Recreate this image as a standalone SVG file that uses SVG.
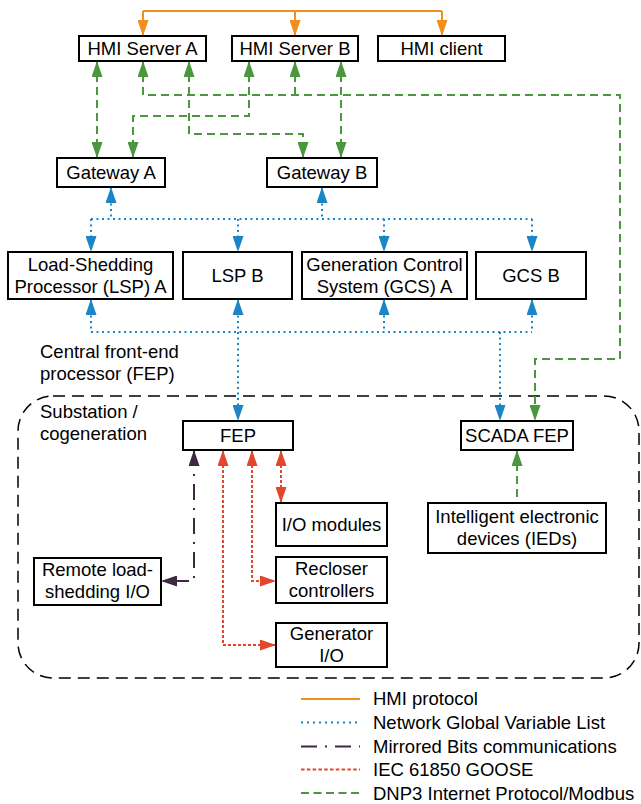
<svg xmlns="http://www.w3.org/2000/svg" width="641" height="804" viewBox="0 0 641 804">
<style>
.box{fill:#fff;stroke:#000;stroke-width:2}
.t{font-family:"Liberation Sans",Arial,sans-serif;font-size:18.5px;fill:#000}
.c{text-anchor:middle}
.ln{fill:none;stroke-width:2}
.or{stroke:#F28E1C}
.bl{stroke:#1B85C6;stroke-dasharray:2 3.5}
.gr{stroke:#4A973D;stroke-dasharray:8 5}
.pu{stroke:#3D2942;stroke-dasharray:16 8 2 8}
.rd{stroke:#E2472B;stroke-dasharray:3 2}
</style>
<defs>
<marker id="aO" viewBox="0 0 16 11" refX="16" refY="5.5" markerWidth="16" markerHeight="11" markerUnits="userSpaceOnUse" orient="auto-start-reverse"><path d="M0,0L16,5.5L0,11z" fill="#F28E1C"/></marker>
<marker id="aB" viewBox="0 0 16 11" refX="16" refY="5.5" markerWidth="16" markerHeight="11" markerUnits="userSpaceOnUse" orient="auto-start-reverse"><path d="M0,0L16,5.5L0,11z" fill="#1B85C6"/></marker>
<marker id="aG" viewBox="0 0 16 11" refX="16" refY="5.5" markerWidth="16" markerHeight="11" markerUnits="userSpaceOnUse" orient="auto-start-reverse"><path d="M0,0L16,5.5L0,11z" fill="#4A973D"/></marker>
<marker id="aP" viewBox="0 0 16 11" refX="16" refY="5.5" markerWidth="16" markerHeight="11" markerUnits="userSpaceOnUse" orient="auto-start-reverse"><path d="M0,0L16,5.5L0,11z" fill="#3D2942"/></marker>
<marker id="aR" viewBox="0 0 16 11" refX="16" refY="5.5" markerWidth="16" markerHeight="11" markerUnits="userSpaceOnUse" orient="auto-start-reverse"><path d="M0,0L16,5.5L0,11z" fill="#E2472B"/></marker>
</defs>

<rect id="substation-area" x="18" y="396" width="621" height="282" rx="35" ry="35" fill="none" stroke="#000" stroke-width="1.5" stroke-dasharray="12 7"/>

<g id="connectors">
  <!-- HMI protocol -->
  <path class="ln or" d="M143,11H442"/>
  <path class="ln or" d="M143,11V36" marker-end="url(#aO)"/>
  <path class="ln or" d="M295,11V36" marker-end="url(#aO)"/>
  <path class="ln or" d="M442,11V36" marker-end="url(#aO)"/>
  <!-- DNP3 -->
  <path class="ln gr" d="M97,61V158" marker-start="url(#aG)" marker-end="url(#aG)"/>
  <path class="ln gr" d="M249,61V116H133V158" marker-start="url(#aG)" marker-end="url(#aG)"/>
  <path class="ln gr" d="M189,61V134H303V158" marker-start="url(#aG)" marker-end="url(#aG)"/>
  <path class="ln gr" d="M341,61V158" marker-start="url(#aG)" marker-end="url(#aG)"/>
  <path class="ln gr" d="M143,61V95H620V359H535V421" marker-start="url(#aG)" marker-end="url(#aG)"/>
  <path class="ln gr" d="M295,61V95" marker-start="url(#aG)"/>
  <path class="ln gr" d="M517,450V503" marker-start="url(#aG)"/>
  <!-- NGVL -->
  <path class="ln bl" d="M111,187V219" marker-start="url(#aB)"/>
  <path class="ln bl" d="M322,187V219" marker-start="url(#aB)"/>
  <path class="ln bl" d="M91,219H532"/>
  <path class="ln bl" d="M91,219V252" marker-end="url(#aB)"/>
  <path class="ln bl" d="M238,219V252" marker-end="url(#aB)"/>
  <path class="ln bl" d="M384,219V252" marker-end="url(#aB)"/>
  <path class="ln bl" d="M532,219V252" marker-end="url(#aB)"/>
  <path class="ln bl" d="M91,299V332" marker-start="url(#aB)"/>
  <path class="ln bl" d="M238,299V421" marker-start="url(#aB)" marker-end="url(#aB)"/>
  <path class="ln bl" d="M384,299V332" marker-start="url(#aB)"/>
  <path class="ln bl" d="M532,299V332" marker-start="url(#aB)"/>
  <path class="ln bl" d="M91,332H532"/>
  <path class="ln bl" d="M500,332V421" marker-end="url(#aB)"/>
  <!-- Mirrored Bits -->
  <path class="ln pu" d="M194,450V581H161" marker-start="url(#aP)" marker-end="url(#aP)"/>
  <!-- GOOSE -->
  <path class="ln rd" d="M223,450V645H276" marker-start="url(#aR)" marker-end="url(#aR)"/>
  <path class="ln rd" d="M252,450V581H276" marker-start="url(#aR)" marker-end="url(#aR)"/>
  <path class="ln rd" d="M281,450V503" marker-start="url(#aR)" marker-end="url(#aR)"/>
</g>

<g id="hmi-server-a"><rect class="box" x="79" y="36" width="127" height="25"/><text class="t c" x="142.5" y="55">HMI Server A</text></g>
<g id="hmi-server-b"><rect class="box" x="232" y="36" width="126" height="25"/><text class="t c" x="295" y="55">HMI Server B</text></g>
<g id="hmi-client"><rect class="box" x="378" y="36" width="127" height="25"/><text class="t c" x="441.5" y="55">HMI client</text></g>
<g id="gateway-a"><rect class="box" x="57" y="158" width="108" height="29"/><text class="t c" x="111" y="179">Gateway A</text></g>
<g id="gateway-b"><rect class="box" x="267" y="158" width="110" height="29"/><text class="t c" x="322" y="179">Gateway B</text></g>
<g id="lsp-a"><rect class="box" x="8" y="252" width="165" height="47"/><text class="t c" x="90.5" y="271">Load-Shedding</text><text class="t c" x="90.5" y="292.5">Processor (LSP) A</text></g>
<g id="lsp-b"><rect class="box" x="183" y="252" width="109" height="47"/><text class="t c" x="237.5" y="282">LSP B</text></g>
<g id="gcs-a"><rect class="box" x="302" y="252" width="165" height="47"/><text class="t c" x="384.5" y="271">Generation Control</text><text class="t c" x="384.5" y="292.5">System (GCS) A</text></g>
<g id="gcs-b"><rect class="box" x="476" y="252" width="110" height="47"/><text class="t c" x="531" y="282">GCS B</text></g>
<g id="central-fep-label"><text class="t" x="40" y="358">Central front-end</text><text class="t" x="40" y="380">processor (FEP)</text></g>
<g id="substation-label"><text class="t" x="40" y="418">Substation /</text><text class="t" x="40" y="440">cogeneration</text></g>
<g id="fep"><rect class="box" x="183" y="421" width="110" height="29"/><text class="t c" x="238" y="442">FEP</text></g>
<g id="scada-fep"><rect class="box" x="461" y="421" width="112" height="29"/><text class="t c" x="517" y="442">SCADA FEP</text></g>
<g id="io-modules"><rect class="box" x="276" y="503" width="111" height="43"/><text class="t c" x="331.5" y="531">I/O modules</text></g>
<g id="ieds"><rect class="box" x="428" y="503" width="178" height="50"/><text class="t c" x="517" y="523">Intelligent electronic</text><text class="t c" x="517" y="545">devices (IEDs)</text></g>
<g id="remote-io"><rect class="box" x="34" y="558" width="127" height="47"/><text class="t c" x="97.5" y="576">Remote load-</text><text class="t c" x="97.5" y="598">shedding I/O</text></g>
<g id="recloser"><rect class="box" x="276" y="557" width="111" height="46"/><text class="t c" x="331.5" y="575">Recloser</text><text class="t c" x="331.5" y="597">controllers</text></g>
<g id="generator-io"><rect class="box" x="276" y="623" width="111" height="44"/><text class="t c" x="331.5" y="640">Generator</text><text class="t c" x="331.5" y="662">I/O</text></g>

<g id="legend">
  <path class="ln or" d="M301,699H360"/>
  <path class="ln bl" d="M301,722.5H360" style="stroke-dasharray:2 4"/>
  <path class="ln pu" d="M301,746.5H360"/>
  <path class="ln rd" d="M301,769.5H360" style="stroke-dasharray:3.5 2.3"/>
  <path class="ln gr" d="M301,793H360" style="stroke-dasharray:8 4.5"/>
  <text class="t" x="373" y="705">HMI protocol</text>
  <text class="t" x="373" y="729">Network Global Variable List</text>
  <text class="t" x="373" y="753">Mirrored Bits communications</text>
  <text class="t" x="373" y="776">IEC 61850 GOOSE</text>
  <text class="t" x="373" y="800">DNP3 Internet Protocol/Modbus</text>
</g>
</svg>
